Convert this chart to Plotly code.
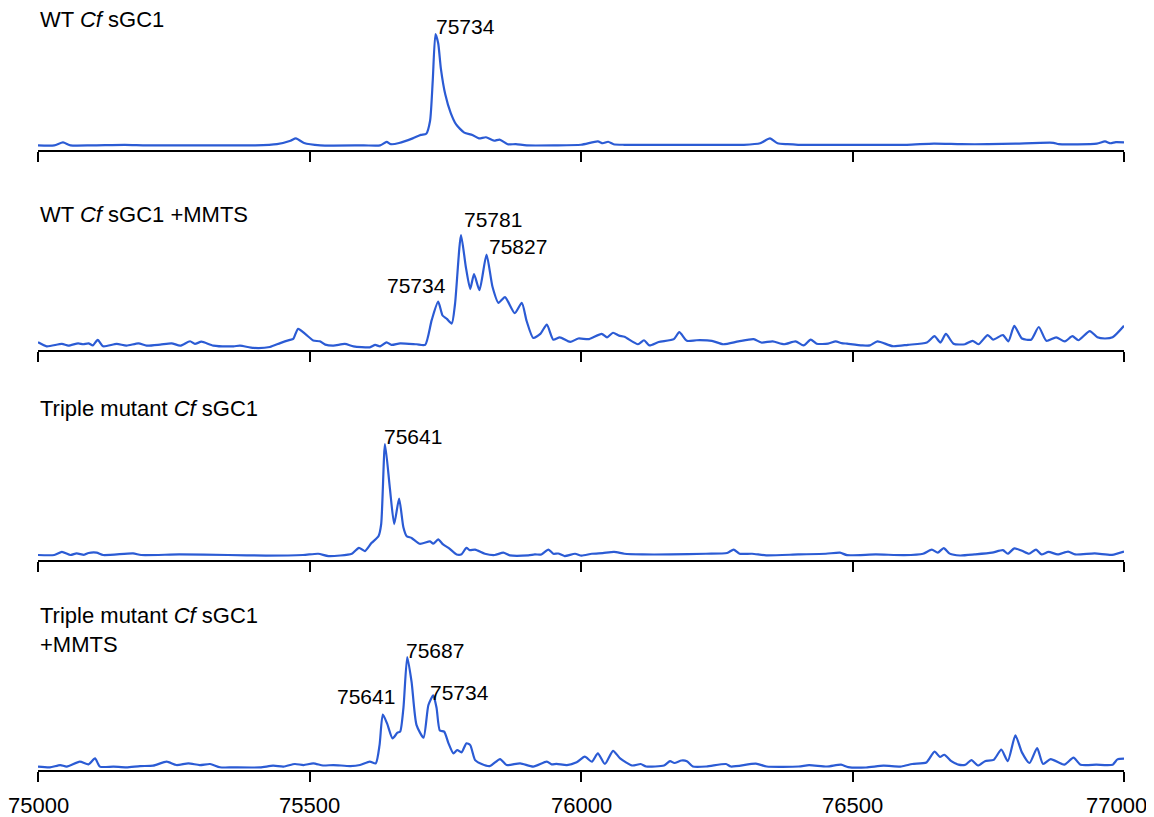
import plotly.graph_objects as go

# ---------------- data (mass in Da, relative intensity %) ----------------
panel_titles = [
    "WT <i>Cf</i> sGC1",
    "WT <i>Cf</i> sGC1 +MMTS",
    "Triple mutant <i>Cf</i> sGC1",
    "Triple mutant <i>Cf</i> sGC1<br>+MMTS",
]

tick_vals = [75000, 75500, 76000, 76500, 77000]
tick_text = ["75000", "75500", "76000", "76500", "77000"]

mass_1 = [75000, 75030, 75046, 75060, 75100, 75160, 75200, 75300, 75400, 75440,
          75465, 75475, 75490, 75520, 75600, 75630, 75642, 75650, 75665, 75690,
          75705, 75715, 75722, 75727, 75732, 75737, 75742, 75750, 75760, 75770,
          75785, 75800, 75812, 75825, 75840, 75850, 75865, 75880, 75900, 75950,
          76000, 76031, 76040, 76050, 76060, 76080, 76150, 76300, 76330, 76348,
          76362, 76380, 76400, 76500, 76600, 76650, 76700, 76750, 76800, 76870,
          76880, 76950, 76965, 76975, 76985, 77000]
inten_1 = [4, 4, 6.5, 4, 4, 4.5, 4, 4, 4, 5,
           8, 10, 6, 4, 4, 4, 7, 5, 6, 10,
           13, 14, 25, 60, 100, 92, 70, 48, 32, 22,
           15, 13, 10, 11, 8, 9, 5, 5, 4, 4,
           4.5, 7.4, 5.8, 7.1, 5, 4.5, 4.5, 4.5, 5.8, 10,
           5.8, 5, 4.5, 4.5, 4.5, 5.5, 5, 5, 5.5, 6.2,
           5, 5.5, 7.4, 5.8, 6.8, 6.5]

mass_2 = [75000, 75016, 75044, 75056, 75074, 75083, 75093, 75101, 75110, 75120,
          75145, 75163, 75185, 75200, 75225, 75246, 75262, 75280, 75289, 75301,
          75323, 75360, 75372, 75397, 75427, 75446, 75464, 75470, 75479, 75492,
          75507, 75519, 75529, 75544, 75565, 75581, 75611, 75621, 75630, 75642,
          75651, 75667, 75697, 75713, 75725, 75737, 75745, 75753, 75762, 75768,
          75779, 75788, 75796, 75803, 75813, 75826, 75837, 75848, 75860, 75878,
          75891, 75900, 75912, 75925, 75937, 75949, 75961, 75980, 75995, 76015,
          76038, 76048, 76059, 76070, 76080, 76105, 76116, 76126, 76143, 76171,
          76181, 76195, 76213, 76241, 76262, 76290, 76318, 76332, 76353, 76374,
          76395, 76410, 76423, 76434, 76455, 76469, 76480, 76490, 76518, 76532,
          76546, 76574, 76602, 76637, 76651, 76662, 76672, 76686, 76707, 76721,
          76732, 76749, 76759, 76777, 76787, 76798, 76812, 76829, 76843, 76857,
          76875, 76891, 76905, 76916, 76937, 76951, 76965, 76979, 77000]
inten_2 = [6.7, 3.2, 5.3, 3.8, 5.8, 5, 5.8, 4, 8.8, 3.2,
           5.3, 3.8, 5.8, 3.8, 4.7, 5.8, 3.8, 7.6, 5.3, 7.2,
           3.8, 3.2, 3.8, 1.8, 2.6, 6, 8.8, 9.6, 18.4, 14,
           8.2, 7.6, 4.7, 3.8, 5.3, 3.2, 2.3, 4.4, 3.2, 6.7,
           4.4, 5.8, 5, 4.5, 26, 42, 30, 27, 23, 40,
           100, 72, 53, 66, 52, 83, 55, 41, 46, 32,
           41, 25, 10.5, 14, 22, 9, 11, 7, 10, 9.5,
           14, 11, 15, 12.5, 11.5, 5, 8.5, 4, 7, 9.5,
           15.5, 8, 8.5, 8, 5, 7.5, 9.5, 6.5, 7.5, 5,
           7.5, 4, 9, 5.5, 5.5, 7.5, 6, 5.5, 4, 4,
           7.5, 3.3, 4.5, 6.5, 12, 6.5, 14, 5.5, 5, 8,
           5, 13, 9, 13, 7.5, 21, 10, 9, 20, 8,
           11, 7.5, 12, 8.5, 16.5, 11, 10, 11, 21]

mass_3 = [75000, 75030, 75044, 75060, 75071, 75085, 75093, 75108, 75120, 75175,
          75190, 75260, 75350, 75420, 75488, 75516, 75535, 75578, 75591, 75602,
          75614, 75627, 75632, 75639, 75648, 75656, 75665, 75673, 75679, 75688,
          75703, 75722, 75728, 75737, 75746, 75756, 75771, 75780, 75789, 75795,
          75805, 75823, 75841, 75857, 75869, 75903, 75915, 75927, 75940, 75949,
          75958, 75970, 75989, 76001, 76020, 76040, 76061, 76080, 76113, 76165,
          76230, 76269, 76281, 76292, 76315, 76341, 76400, 76451, 76477, 76490,
          76543, 76595, 76630, 76646, 76657, 76668, 76679, 76698, 76725, 76757,
          76777, 76786, 76798, 76812, 76825, 76838, 76848, 76861, 76878, 76897,
          76910, 76946, 76978, 77000]
inten_3 = [4.3, 4.3, 7, 4.3, 5.7, 4.5, 6, 6.3, 4.3, 5.7,
           4.3, 4.8, 4.3, 3.8, 4.3, 5.4, 3.4, 5.4, 10.5, 7.7,
           14.6, 20.5, 31, 100, 62, 31, 53, 28, 20.5, 19,
           14, 16, 14, 17.7, 13.4, 10.5, 4.8, 5, 10.5, 8.5,
           9, 5.4, 4.3, 6.3, 4, 4, 4.8, 4.8, 9, 5.4,
           5.6, 3.4, 5.4, 3.8, 5.4, 6, 7, 5.4, 4.8, 4.8,
           5.4, 6, 9, 5.4, 5.4, 4, 4.8, 5.4, 6.3, 4.2,
           4.8, 4.2, 5.4, 9, 6.3, 10.3, 5.5, 3.9, 4.8, 6.3,
           8.5, 5.4, 10, 7.9, 5.4, 9, 4.8, 7, 4.8, 7.3,
           4.8, 5.7, 4.5, 7.3]

mass_4 = [75000, 75022, 75041, 75053, 75077, 75093, 75105, 75114, 75139, 75163,
          75188, 75212, 75237, 75255, 75277, 75298, 75317, 75335, 75359, 75409,
          75433, 75452, 75473, 75489, 75507, 75525, 75544, 75575, 75593, 75611,
          75622, 75629, 75635, 75643, 75653, 75662, 75667, 75673, 75680, 75688,
          75697, 75710, 75719, 75728, 75734, 75740, 75748, 75756, 75765, 75772,
          75780, 75789, 75796, 75805, 75817, 75832, 75851, 75863, 75888, 75912,
          75937, 75946, 75955, 75974, 75992, 76007, 76020, 76031, 76044, 76059,
          76072, 76094, 76110, 76120, 76153, 76164, 76172, 76185, 76195, 76206,
          76231, 76267, 76276, 76322, 76342, 76401, 76420, 76453, 76479, 76492,
          76525, 76557, 76590, 76610, 76636, 76651, 76661, 76669, 76682, 76695,
          76708, 76719, 76731, 76744, 76760, 76774, 76786, 76800, 76812, 76826,
          76840, 76851, 76865, 76890, 76907, 76920, 76949, 76979, 76988, 77000]
inten_4 = [3, 2.3, 4.4, 3, 7.4, 5, 10.3, 3, 3, 2.3,
           3.5, 3.8, 7.4, 4.4, 5.9, 4.4, 5.3, 2.4, 2.3, 2.3,
           3.8, 3, 5.3, 4.4, 5.9, 4, 4.4, 3.5, 4.4, 7.4,
           5.9, 22, 49, 41, 28, 33, 34, 55, 100, 78,
           40, 28.6, 57.5, 66, 55, 35, 34, 23.6, 14.7, 17.7,
           15.6, 23.6, 22, 8.8, 5.3, 3.5, 9.7, 4.4, 5.9, 3,
           7.4, 5, 5.5, 4.4, 6.8, 11.8, 7.4, 14.7, 5.3, 17,
           10.3, 4, 5.3, 3.1, 4, 7.8, 6.2, 8.4, 7.8, 3.1,
           3.1, 5.3, 3.1, 5.6, 3.1, 3.1, 4.3, 3.1, 4.7, 2.5,
           2.2, 3.8, 3.1, 5.3, 6.6, 16.3, 11.6, 13.5, 7.8, 4.7,
           4.7, 8.8, 4, 7.8, 9, 18, 7.8, 30.6, 15.6, 6.2,
           19.4, 5.3, 9.7, 4.7, 11, 4.7, 4.7, 4.7, 9.4, 10]

peak_labels_1 = [75734]
peak_labels_2 = [75734, 75781, 75827]
peak_labels_3 = [75641]
peak_labels_4 = [75641, 75687, 75734]

# ---------------- layout helpers ----------------
masses = [mass_1, mass_2, mass_3, mass_4]
intens = [inten_1, inten_2, inten_3, inten_4]
peak_labels = [peak_labels_1, peak_labels_2, peak_labels_3, peak_labels_4]
# label placement: (xanchor, xshift, yshift) in px
label_style = [
    [("left", -1, -6)],
    [("right", 10, 3), ("left", 1, 2), ("left", 0, -5)],
    [("left", -3, -6)],
    [("right", 14, 5), ("left", -3, -7), ("left", -5, -11)],
]

FONT = "Liberation Sans, Arial, Helvetica, sans-serif"
LINE_COLOR = "#2b5bd4"
# page body has an 8px margin: draw the figure 8px smaller on each side
OFF = 8
W, H = 1154 - OFF, 817 - OFF
M_T, M_B, M_L, M_R = 0, 47, 38 - OFF, 30
PLOT_H = H - M_T - M_B
axis_px = [150 - OFF, 350 - OFF, 560 - OFF, 770 - OFF]   # x-axis line rows
panel_px = 125
px_per_unit = [1.16, 1.15, 1.16, 1.13]
title_px = [20 - OFF, 215 - OFF, 408 - OFF, 630 - OFF]
ticklabel_px = 805 - OFF            # row of the bottom tick-label centres

fig = go.Figure()
annotations = []
layout = {}
for i in range(4):
    n = "" if i == 0 else str(i + 1)
    fig.add_trace(go.Scatter(
        x=masses[i], y=intens[i], mode="lines",
        line=dict(color=LINE_COLOR, width=2.2, shape="spline", smoothing=0.6),
        xaxis="x" + n, yaxis="y" + n, showlegend=False, hoverinfo="x+y"))
    bottom = (PLOT_H - axis_px[i]) / PLOT_H
    top = bottom + panel_px / PLOT_H
    layout["xaxis" + n] = dict(
        range=[75000, 77000], anchor="y" + n, showgrid=False, zeroline=False,
        showline=True, linecolor="black", linewidth=2,
        ticks="outside", ticklen=10, tickwidth=2, tickcolor="black",
        tickvals=tick_vals, ticktext=tick_text, showticklabels=False,
        fixedrange=True)
    layout["yaxis" + n] = dict(
        domain=[bottom, top], range=[0, panel_px / px_per_unit[i]], anchor="x" + n,
        visible=False, fixedrange=True)
    annotations.append(dict(
        xref="paper", yref="paper", x=0, y=(PLOT_H - title_px[i]) / PLOT_H,
        xanchor="left", yanchor="middle", align="left", showarrow=False,
        text=panel_titles[i], font=dict(family=FONT, size=22, color="black")))
    for lab, (xa, xs, ys) in zip(peak_labels[i], label_style[i]):
        j = min(range(len(masses[i])), key=lambda k: abs(masses[i][k] - lab))
        jmax = max(range(max(0, j - 2), min(len(masses[i]), j + 3)),
                   key=lambda k: intens[i][k])
        annotations.append(dict(
            xref="x" + n, yref="y" + n, x=masses[i][jmax], y=intens[i][jmax],
            xanchor=xa, yanchor="bottom", xshift=xs, yshift=ys, showarrow=False,
            text=str(lab), font=dict(family=FONT, size=21, color="black")))

# bottom axis tick labels (the last one is kept inside the page edge)
for k, (tv, tt) in enumerate(zip(tick_vals, tick_text)):
    last = k == len(tick_vals) - 1
    annotations.append(dict(
        xref="x4", yref="paper", x=tv, y=(PLOT_H - ticklabel_px) / PLOT_H,
        xanchor="right" if last else "center", xshift=25 if last else 0,
        yanchor="middle", showarrow=False, text=tt,
        font=dict(family=FONT, size=22, color="black")))

fig.update_layout(
    width=W, height=H, margin=dict(t=M_T, b=M_B, l=M_L, r=M_R),
    paper_bgcolor="white", plot_bgcolor="white",
    annotations=annotations, **layout)

fig.write_html("out.html")
